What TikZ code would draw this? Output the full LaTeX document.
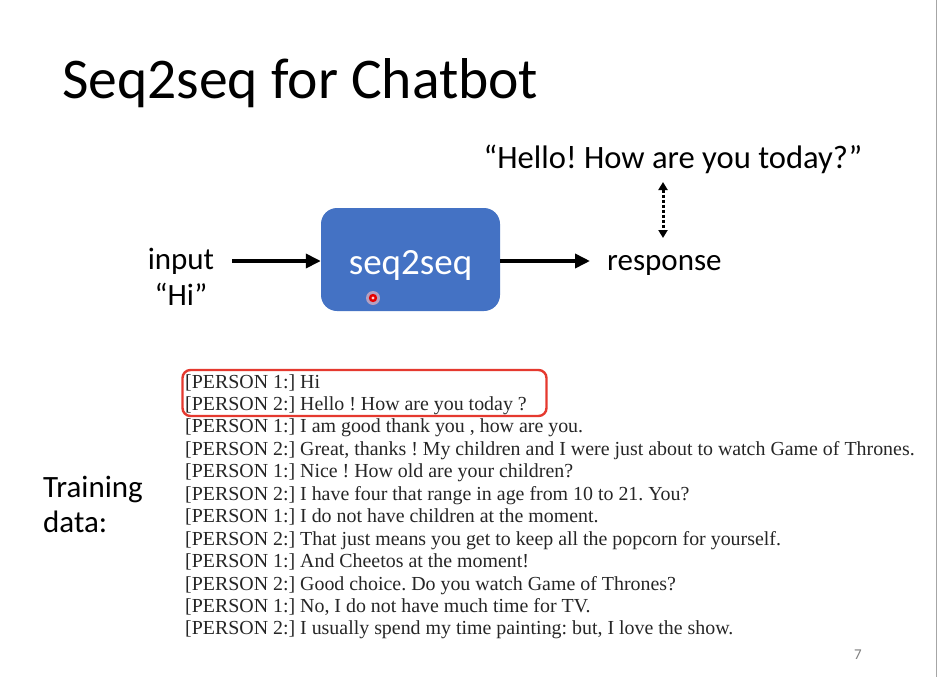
\documentclass[tikz,border=0pt]{standalone}
\usepackage{fontspec}
\setmainfont{Carlito}
\newfontfamily\tms{Liberation Serif}
\usetikzlibrary{arrows.meta}
\definecolor{boxblue}{HTML}{4472C4}
\definecolor{selred}{HTML}{E5392F}
\begin{document}
\frenchspacing
\begin{tikzpicture}[x=1pt,y=-1pt,
  body/.style={font=\fontsize{31}{36}\selectfont, inner sep=0, anchor=base},
  flow/.style={line width=3.6pt, -{Triangle[length=15pt,width=14pt]}},
  dialog/.style={font=\tms\fontsize{19.9}{22}\selectfont, inner sep=0, anchor=base west, text=black!85},
]
\useasboundingbox (0,0) rectangle (939,677);
\fill[white] (0,0) rectangle (939,677);
\draw[black!35, line width=1.5pt] (936.5,0) -- (936.5,677);

\node[anchor=base west, inner sep=0, font=\fontsize{57.6}{62}\selectfont] (title) at (62,98) {Seq2seq for Chatbot};

\node[fill=boxblue, rounded corners=16pt, minimum width=179pt, minimum height=103pt, inner sep=0] (model) at (410.5,259.5) {};
\node[body, font=\fontsize{37}{40}\selectfont, text=white] (mtext) at (410.5,274) {seq2seq};

\node[body] (inp) at (181,269) {input};
\node[body] (hi) at (181,305) {“Hi”};
\node[body, anchor=base west] (resp) at (607,270) {response};
\node[body, font=\fontsize{32.6}{36}\selectfont] (hello) at (673,168) {“Hello! How are you today?”};

\coordinate (inend) at (232,261);
\coordinate (outend) at (590,261);
\draw[flow] (inend) -- (model.west |- inend);
\draw[flow] (model.east |- outend) -- (outend);
\coordinate (dtop) at (663,182);
\coordinate (dbot) at (663,238);
\draw[line width=3pt, dotted, {Triangle[length=8pt,width=9pt]}-{Triangle[length=8pt,width=9pt]}] (dtop) -- (dbot);

% laser pointer dot
\fill[red!25, opacity=0.6] (373,298) circle (7);
\fill[red!90!black] (373,298) circle (4.2);
\fill[white!80!red] (373,298) circle (1.6);

\node[body, anchor=base west] (train) at (43,497) {Training};
\node[body, anchor=base west] (data) at (43,532) {data:};

\foreach \t [count=\i from 0] in {
  {[PERSON 1:] Hi},
  {[PERSON 2:] Hello ! How are you today ?},
  {[PERSON 1:] I am good thank you , how are you.},
  {[PERSON 2:] Great, thanks ! My children and I were just about to watch Game of Thrones.},
  {[PERSON 1:] Nice ! How old are your children?},
  {[PERSON 2:] I have four that range in age from 10 to 21. You?},
  {[PERSON 1:] I do not have children at the moment.},
  {[PERSON 2:] That just means you get to keep all the popcorn for yourself.},
  {[PERSON 1:] And Cheetos at the moment!},
  {[PERSON 2:] Good choice. Do you watch Game of Thrones?},
  {[PERSON 1:] No, I do not have much time for TV.},
  {[PERSON 2:] I usually spend my time painting: but, I love the show.}}
  \node[dialog] (line\i) at (185, 388+22.45*\i) {\t};

\node[draw=selred, line width=2.4pt, rounded corners=8pt, minimum width=364pt, minimum height=46pt, inner sep=0] (sel) at (364.5,393) {};

\node[inner sep=0, text=black!50, font=\fontsize{15}{18}\selectfont, anchor=base] (pg) at (858,659) {7};
\end{tikzpicture}
\end{document}
